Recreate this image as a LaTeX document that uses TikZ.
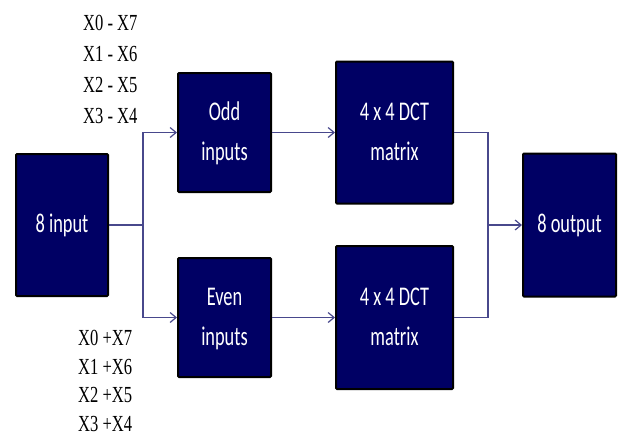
\documentclass[tikz,border=0pt]{standalone}
\usepackage{fontspec}
\usepackage{graphicx}
\setmainfont{Liberation Serif}
\newfontfamily\boxfont{Carlito}
\usetikzlibrary{arrows.meta}
\definecolor{boxnavy}{RGB}{0,0,100}
\definecolor{connblue}{RGB}{72,72,140}
\newcommand\sqz[1]{\scalebox{0.68}[1]{#1}}
\newcommand\sqy[1]{\scalebox{0.72}[1]{#1}}
\tikzset{
  blk/.style={draw=black, line width=2pt, fill=boxnavy, text=white, rounded corners=1pt,
              inner sep=0pt, font=\boxfont\fontsize{27}{40}\selectfont, align=center},
  conn/.style={draw=connblue, line width=1.3pt},
  arr/.style={-{Straight Barb[length=6pt,width=10pt,line width=1.2pt]}},
  lbl/.style={anchor=base west, inner sep=0pt, font=\fontsize{23}{26}\selectfont}
}
\begin{document}
\begin{tikzpicture}[x=1pt,y=-1pt]
\useasboundingbox (0,0) rectangle (625,440);
\node[blk, minimum width=92pt, minimum height=142pt] (in) at (62,225) {\sqz{8 input}};
\node[blk, minimum width=93pt, minimum height=119pt] (odd) at (224.5,132.5) {\sqz{\begin{tabular}{@{}c@{}}Odd\\inputs\end{tabular}}};
\node[blk, minimum width=93pt, minimum height=119pt] (even) at (224.5,317.5) {\sqz{\begin{tabular}{@{}c@{}}Even\\inputs\end{tabular}}};
\node[blk, minimum width=117pt, minimum height=142pt] (dct1) at (394.5,132.5) {\sqz{\begin{tabular}{@{}c@{}}4 x 4 DCT\\matrix\end{tabular}}};
\node[blk, minimum width=117pt, minimum height=143pt] (dct2) at (394.5,317.5) {\sqz{\begin{tabular}{@{}c@{}}4 x 4 DCT\\matrix\end{tabular}}};
\node[blk, minimum width=93pt, minimum height=143pt] (out) at (569.5,225) {\sqz{8 output}};

\coordinate (split) at (143,225);
\coordinate (merge) at (488,225);
\draw[conn] (in.east) -- (split);
\draw[conn,arr] (split) |- (odd.west);
\draw[conn,arr] (split) |- (even.west);
\draw[conn,arr] (odd.east) -- (dct1.west);
\draw[conn,arr] (even.east) -- (dct2.west);
\draw[conn] (dct1.east) -| (merge);
\draw[conn] (dct2.east) -| (merge);
\draw[conn,arr] (merge) -- (out.west);

\node[lbl] (t1) at (83,30) {\sqy{X0 - X7}};
\node[lbl] (t2) at (83,61) {\sqy{X1 - X6}};
\node[lbl] (t3) at (83,92) {\sqy{X2 - X5}};
\node[lbl] (t4) at (83,123) {\sqy{X3 - X4}};
\node[lbl] (b1) at (78,345) {\sqy{X0 +X7}};
\node[lbl] (b2) at (78,374) {\sqy{X1 +X6}};
\node[lbl] (b3) at (78,402) {\sqy{X2 +X5}};
\node[lbl] (b4) at (78,431) {\sqy{X3 +X4}};
\end{tikzpicture}
\end{document}
